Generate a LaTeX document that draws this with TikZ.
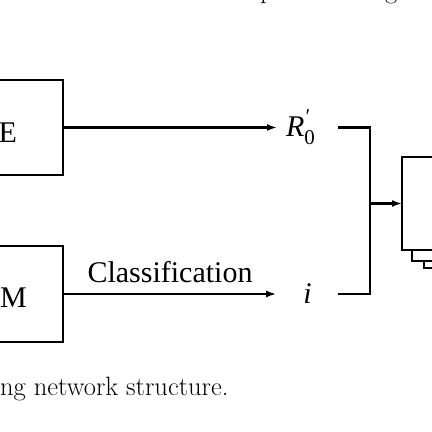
\documentclass[tikz,border=0pt]{standalone}
\usepackage{fontspec}
\setmainfont{Liberation Serif}
\newfontfamily\capfont{Latin Modern Roman}
\usetikzlibrary{arrows.meta}

\begin{document}
\begin{tikzpicture}[x=10pt,y=10pt,line width=2.2pt,
  arr/.style={-{Latex[length=10pt,width=7pt]}},
  lbl/.style={inner sep=0pt,font=\fontsize{30}{36}\selectfont},
  captxt/.style={inner sep=0pt,font={\capfont\fontsize{26.5}{32}\selectfont}}]
  \useasboundingbox (0,0) rectangle (43.2,43.2);
  \coordinate (Ea) at (-3,35.2); \coordinate (Ec) at (6.3,25.7);
  \coordinate (Ma) at (-3,18.6); \coordinate (Mc) at (6.3,9);
  \coordinate (Ca) at (40.2,27.5); \coordinate (Cc) at (47,18.2);
  \draw (Ea) rectangle (Ec);
  \draw (Ma) rectangle (Mc);
  \draw[fill=white] (42.4,25.7) rectangle (49,16.4);
  \draw[fill=white] (41.2,26.4) rectangle (48,17.1);
  \draw[fill=white] (Ca) rectangle (Cc);
  \coordinate (Eo) at (6.3,30.45);
  \coordinate (Mo) at (6.3,13.8);
  \coordinate (Ci) at (40.2,22.85);
  % labels
  \node[lbl,anchor=base east] (Etxt) at (1.8,28.9) {E};
  \node[lbl,anchor=base east] (Mtxt) at (2.8,12.4) {M};
  \node[lbl,anchor=west] (R0) at (28.5,30.45)
    {\textit{R}\rlap{\raisebox{0.42em}{\fontsize{21}{21}\selectfont\itshape\char"2032}}\raisebox{-0.28em}{\fontsize{21}{21}\selectfont 0}};
  \node[lbl] (iv) at (30.75,13.8) {\textit{i}};
  \node[lbl,anchor=base] (cls) at (17,14.9) {Classification};
  \node[captxt,anchor=base west] (caption) at (-0.1,3.7) {ng network structure.};
  \node[captxt,anchor=base west] (tp) at (25.9,43.3) {p};
  \node[captxt,anchor=base west] (tg) at (38.4,43.3) {g};
  % connectors
  \draw[arr,shorten >=8pt] (Eo) -- (R0.west);
  \draw[arr,shorten >=26pt] (Mo) -- (iv.west);
  \coordinate (bt) at (33.8,30.45);
  \coordinate (bb) at (33.8,13.8);
  \coordinate (bm) at (37,22.85);
  \draw (bt) -| (bm) |- (bb);
  \draw[arr] (bm) -- (Ci);
\end{tikzpicture}
\end{document}
